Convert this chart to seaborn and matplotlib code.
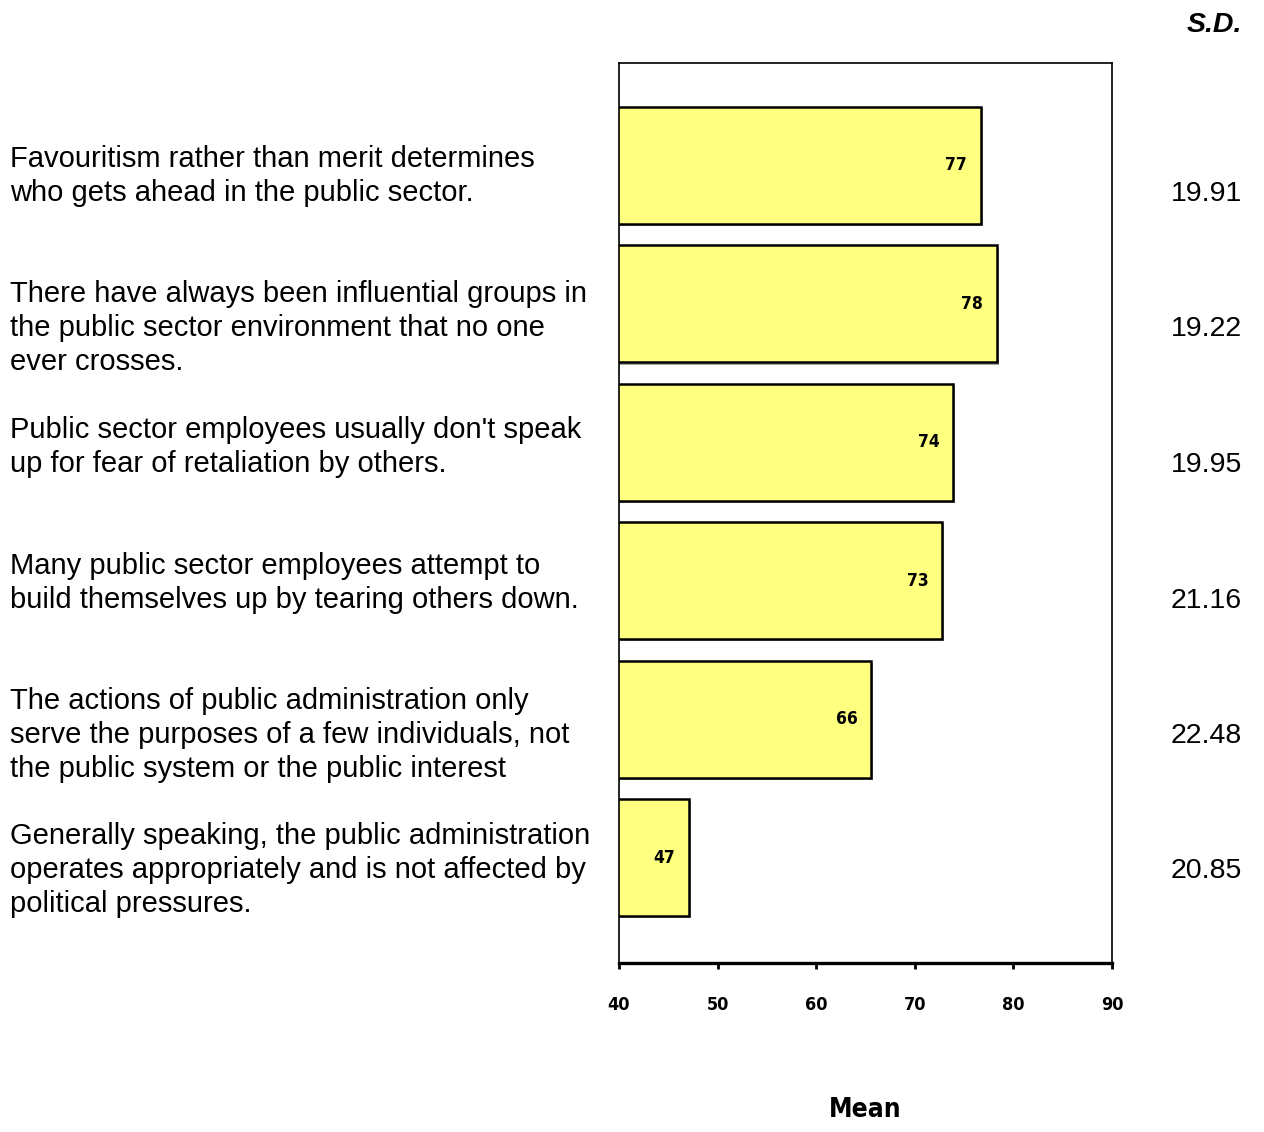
import matplotlib
matplotlib.use("Agg")
import matplotlib.pyplot as plt
import matplotlib.patheffects as pe
import seaborn as sns
import pandas as pd

# Survey items, mean agreement scores and standard deviations
items = [
    "Favouritism rather than merit determines\nwho gets ahead in the public sector.",
    "There have always been influential groups in\nthe public sector environment that no one\never crosses.",
    "Public sector employees usually don't speak\nup for fear of retaliation by others.",
    "Many public sector employees attempt to\nbuild themselves up by tearing others down.",
    "The actions of public administration only\nserve the purposes of a few individuals, not\nthe public system or the public interest",
    "Generally speaking, the public administration\noperates appropriately and is not affected by\npolitical pressures.",
]
means = [76.7, 78.3, 73.9, 72.8, 65.6, 47.1]
sds = [19.91, 19.22, 19.95, 21.16, 22.48, 20.85]
x_ticks = [40, 50, 60, 70, 80, 90]

df = pd.DataFrame({"item": items, "mean": means})

sns.set_style("white")
plt.rcParams["font.family"] = ["Liberation Sans", "DejaVu Sans"]
plt.rcParams["text.color"] = "black"
plt.rcParams["xtick.color"] = "black"
plt.rcParams["xtick.labelcolor"] = "black"

W, H = 1264, 1132
fig = plt.figure(figsize=(W / 100, H / 100), dpi=100)
ax = fig.add_axes([619 / W, 1 - 963 / H, (1112 - 619) / W, (963 - 63) / H])

sns.barplot(
    data=df, x="mean", y="item", orient="h", ax=ax,
    color="#FFFF80", saturation=1, edgecolor="black", linewidth=1.8, width=0.845,
)
for p in ax.patches:
    p.set_path_effects([
        pe.SimplePatchShadow(offset=(1.5, -1.5), shadow_rgbFace="#808080", alpha=0.7),
        pe.Normal(),
    ])

ax.set_xlim(40, 90)
ax.set_ylim(len(items) - 0.5 + 0.26, -0.74)
ax.set_xticks(x_ticks)
ax.set_yticks([])
ax.set_ylabel("")
ax.set_xlabel("")

cond = dict(family=["Liberation Sans Narrow", "DejaVu Sans"], fontstretch="condensed",
            fontweight="bold", color="black")

ax.set_xticklabels([str(t) for t in x_ticks], fontsize=13, **cond)
ax.tick_params(axis="x", direction="out", length=4, width=2, pad=20, color="black",
               bottom=True)

for side in ["left", "top", "right"]:
    ax.spines[side].set_color("black")
    ax.spines[side].set_linewidth(1.2)
ax.spines["bottom"].set_color("black")
ax.spines["bottom"].set_linewidth(2.4)

# Value labels just inside the end of each bar
for p, v in zip(ax.patches, means):
    ax.annotate(f"{v:.0f}", xy=(p.get_x() + p.get_width(), p.get_y() + p.get_height() / 2),
                xytext=(-10, 0), textcoords="offset points", ha="right", va="center",
                fontsize=12.5, **cond)

fig.text(865 / W, 1 - 1110 / H, "Mean", ha="center", va="center", fontsize=19, **cond)

# Item statements on the left and S.D. column on the right
row_step = 135.5
line_step = 34
for k, (label, sd) in enumerate(zip(items, sds)):
    base = 167 + k * row_step
    for j, line in enumerate(label.split("\n")):
        fig.text(10 / W, 1 - (base + j * line_step) / H, line, ha="left", va="baseline",
                 fontsize=21, color="black")
    fig.text(1242 / W, 1 - (base + line_step) / H, f"{sd:.2f}", ha="right", va="baseline",
             fontsize=20.5, color="black")

fig.text(1242 / W, 1 - 32 / H, "S.D.", ha="right", va="baseline", fontsize=20.5,
         fontweight="bold", fontstyle="italic", color="black")

fig.savefig("out.png", dpi=100, facecolor="white")
